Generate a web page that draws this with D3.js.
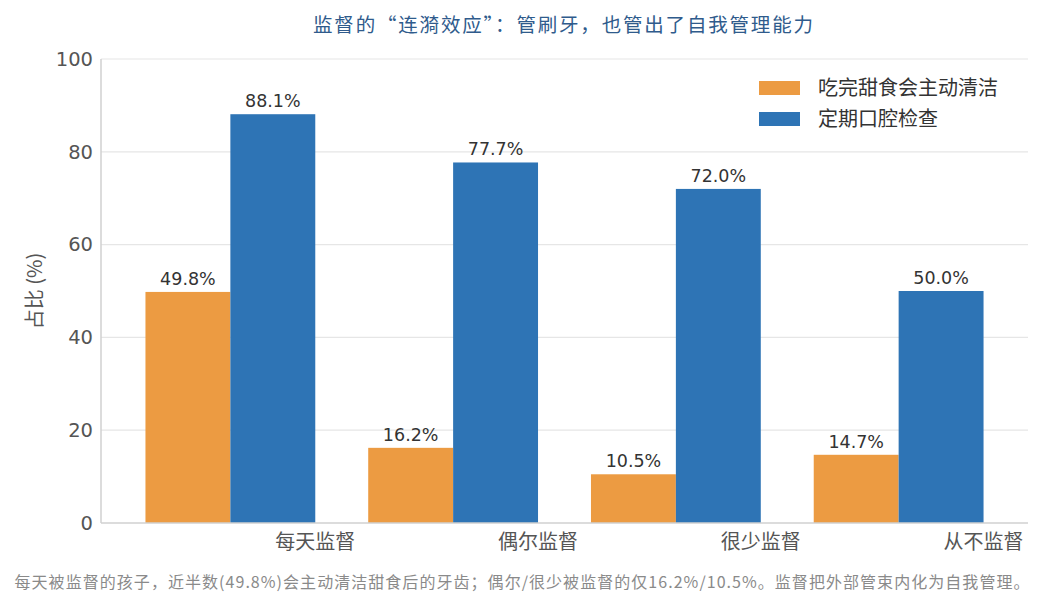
<!DOCTYPE html>
<html><head><meta charset="utf-8">
<script src="https://cdn.jsdelivr.net/npm/d3@7"></script>
<style>
body{margin:0;background:#fff;}
text{font-family:"Noto Sans CJK SC","Noto Sans",sans-serif;}
</style></head>
<body>
<svg id="c" width="1047" height="607"></svg>
<script>
const categories = ["每天监督","偶尔监督","很少监督","从不监督"];
const seriesNames = ["吃完甜食会主动清洁","定期口腔检查"];
const cleanAfterSweets = [49.8, 16.2, 10.5, 14.7];
const dentalCheckup = [88.1, 77.7, 72.0, 50.0];
const yTicks = [0,20,40,60,80,100];
const title = "监督的“连漪效应”：管刷牙，也管出了自我管理能力";
const yLabel = "占比 (%)";
const footnote = "每天被监督的孩子，近半数(49.8%)会主动清洁甜食后的牙齿；偶尔/很少被监督的仅16.2%/10.5%。监督把外部管束内化为自我管理。";
const colors = ["#EC9B42","#2E74B5"];

const svg = d3.select("#c");
const L=101, R=1028, T=59, B=523;
const x = d3.scaleBand().domain(categories).range([L,R]).paddingInner(0.2377).paddingOuter(0.1996);
const xs = d3.scaleBand().domain([0,1]).range([0,x.bandwidth()]);
const y = d3.scaleLinear().domain([0,100]).range([B,T]);
const numFont = "DejaVu Sans, sans-serif";

// grid
svg.append("g").selectAll("line").data(yTicks.filter(d=>d>0)).join("line")
 .attr("x1",L).attr("x2",R).attr("y1",d=>y(d)).attr("y2",d=>y(d))
 .attr("stroke","#e6e6e6").attr("stroke-width",1.2);

const series=[cleanAfterSweets,dentalCheckup];
series.forEach((vals,si)=>{
  const g=svg.append("g");
  g.selectAll("rect").data(vals).join("rect")
   .attr("x",(d,i)=>x(categories[i])+xs(si)).attr("width",xs.bandwidth())
   .attr("y",d=>y(d)).attr("height",d=>B-y(d)).attr("fill",colors[si]);
  g.selectAll("text").data(vals).join("text")
   .attr("x",(d,i)=>x(categories[i])+xs(si)+xs.bandwidth()/2)
   .attr("y",d=>y(d)-7).attr("text-anchor","middle")
   .attr("font-size",17.5).attr("fill","#333").style("font-family",numFont).text(d=>d.toFixed(1)+"%");
});

// spines
svg.append("line").attr("x1",L).attr("x2",L).attr("y1",T).attr("y2",B).attr("stroke","#d0d0d0").attr("stroke-width",1.5);
svg.append("line").attr("x1",L).attr("x2",R).attr("y1",B).attr("y2",B).attr("stroke","#d0d0d0").attr("stroke-width",1.5);

// y ticks
const yAxis = svg.append("g").attr("transform",`translate(${L},0)`)
 .call(d3.axisLeft(y).tickValues(yTicks).tickSize(0).tickPadding(8));
yAxis.select(".domain").remove();
yAxis.selectAll("text").attr("font-size",19.5).attr("fill","#555").style("font-family",numFont);

// x labels, centered at right edge of second bar
svg.append("g").selectAll("text").data(categories).join("text")
 .attr("x",d=>x(d)+x.bandwidth()).attr("y",549).attr("text-anchor","middle")
 .attr("font-size",20).attr("fill","#555").text(d=>d);

// y label
svg.append("text").attr("transform","translate(42,291) rotate(-90)")
 .attr("text-anchor","middle").attr("font-size",20).attr("fill","#555").text(yLabel);

// title
svg.append("text").attr("x",563).attr("y",32).attr("text-anchor","middle")
 .attr("font-size",19.5).attr("fill","#2F5B8C")
 .attr("textLength",500).attr("lengthAdjust","spacing").text(title);

// legend
const lg=svg.append("g");
seriesNames.forEach((n,i)=>{
  lg.append("rect").attr("x",759).attr("y",81+i*31).attr("width",41).attr("height",14).attr("fill",colors[i]);
  lg.append("text").attr("x",818).attr("y",88+i*31).attr("dy","0.35em").attr("font-size",20).attr("fill","#333").text(n);
});

// footnote
svg.append("text").attr("x",522).attr("y",588).attr("text-anchor","middle")
 .attr("font-size",16).attr("fill","#8a8a8a")
 .attr("textLength",1015).attr("lengthAdjust","spacing").text(footnote);
</script>
</body></html>
